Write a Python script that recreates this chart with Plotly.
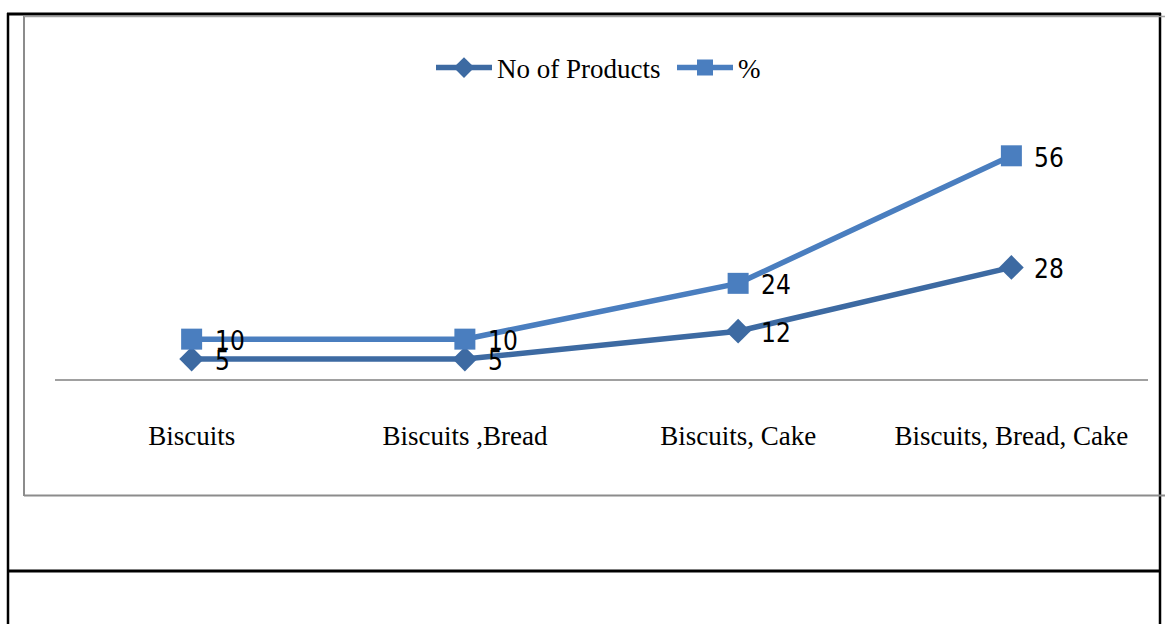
import plotly.graph_objects as go

# Product combinations and the two series plotted against them
categories = ["Biscuits", "Biscuits ,Bread", "Biscuits, Cake", "Biscuits, Bread, Cake"]
no_of_products = [5, 5, 12, 28]
percent = [10, 10, 24, 56]

W, H = 1165, 624
# plot area in pixels
L, R, T, B = 55, 1148, 100, 379


def px(x):
    return (x - L) / (R - L)


def py(y):
    return (B - y) / (B - T)


label_font = dict(family="Liberation Sans Narrow, DejaVu Sans Condensed, Arial Narrow, sans-serif",
                  size=26, color="#000000")
serif = "Liberation Serif, Times New Roman, serif"

fig = go.Figure()
fig.add_trace(go.Scatter(
    x=categories, y=no_of_products, name="No of Products",
    mode="lines+markers",
    line=dict(color="#3D6AA2", width=5.5),
    marker=dict(symbol="diamond", size=19, color="#3D6AA2"),
))
fig.add_trace(go.Scatter(
    x=categories, y=percent, name="%",
    mode="lines+markers",
    line=dict(color="#4A7EBF", width=5.5),
    marker=dict(symbol="square", size=21, color="#4A7EBF"),
))

# value labels to the right of each point
annotations = []
for series in (percent, no_of_products):
    for cat, v in zip(categories, series):
        annotations.append(dict(
            x=cat, y=v, xref="x", yref="y", text=str(v), showarrow=False,
            xanchor="left", yanchor="middle", xshift=21, yshift=-2,
            font=label_font,
        ))

# page frame lines (black) and chart border (gray)
shapes = []
black = dict(color="#000000", width=3)
shapes.append(dict(type="line", xref="paper", yref="paper", x0=px(7), x1=px(1161), y0=py(14), y1=py(14), line=black))
shapes.append(dict(type="line", xref="paper", yref="paper", x0=px(7), x1=px(1161), y0=py(571), y1=py(571), line=black))
shapes.append(dict(type="line", xref="paper", yref="paper", x0=px(8), x1=px(8), y0=py(13), y1=py(630), line=dict(color="#000000", width=2.5)))
shapes.append(dict(type="line", xref="paper", yref="paper", x0=px(1160), x1=px(1160), y0=py(13), y1=py(630), line=dict(color="#000000", width=2.5)))
gray = dict(color="#8C8C8C", width=2)
shapes.append(dict(type="line", xref="paper", yref="paper", x0=px(24), x1=px(24), y0=py(16), y1=py(496), line=gray))
shapes.append(dict(type="line", xref="paper", yref="paper", x0=px(24), x1=px(1170), y0=py(495.5), y1=py(495.5), line=gray))
shapes.append(dict(type="line", xref="paper", yref="paper", x0=px(24), x1=px(1170), y0=py(16.5), y1=py(16.5), line=dict(color="#A0A0A0", width=1.5)))

fig.update_layout(
    width=W, height=H,
    margin=dict(l=L, r=W - R, t=T, b=H - B, pad=0),
    paper_bgcolor="white", plot_bgcolor="white",
    showlegend=True,
    legend=dict(orientation="h", x=px(431), y=py(68), xanchor="left", yanchor="middle",
                font=dict(family=serif, size=27, color="#000000"),
                itemwidth=56, entrywidth=170, entrywidthmode="pixels",
                bgcolor="rgba(0,0,0,0)", tracegroupgap=0),
    xaxis=dict(type="category", showline=True, linecolor="#A0A0A0", linewidth=2,
               showgrid=False, zeroline=False, ticks="", ticklabelstandoff=32,
               tickfont=dict(family=serif, size=27, color="#000000"),
               range=[-0.5, 3.5], fixedrange=True),
    yaxis=dict(visible=False, range=[0, 70], showgrid=False, zeroline=False),
    shapes=shapes,
    annotations=annotations,
)

fig.write_html("out.html")
